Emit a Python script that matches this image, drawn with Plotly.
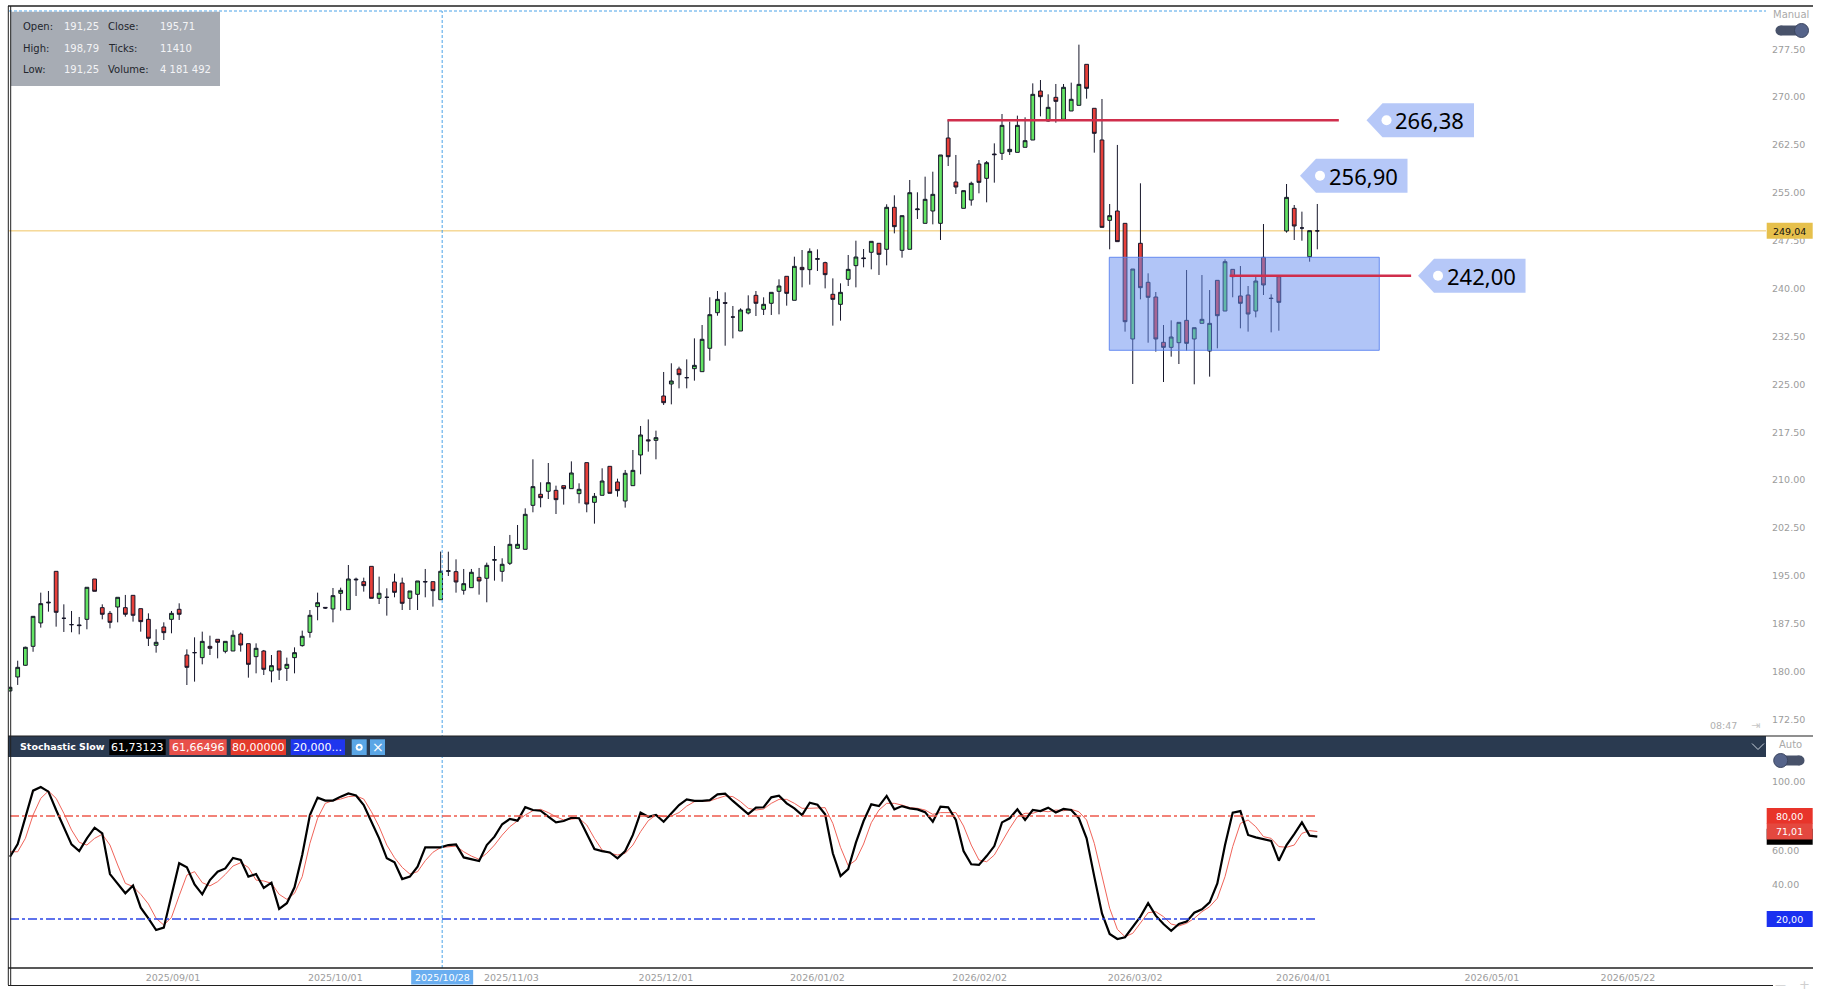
import plotly.graph_objects as go

# ---------------- data ----------------
opens = [
    176.96, 179.15, 180.98, 183.95, 187.61, 190.75, 195.70, 188.34, 187.35, 187.30,
    188.18, 194.50, 190.01, 189.12, 190.11, 190.01, 191.94, 189.85, 188.18, 184.11,
    186.98, 188.18, 189.75, 182.59, 182.96, 182.18, 183.95, 185.05, 183.17, 183.22,
    185.88, 184.37, 182.33, 183.22, 180.09, 183.22, 180.50, 182.18, 184.06, 186.14,
    190.17, 190.05, 189.80, 192.26, 189.70, 194.35, 194.08, 196.48, 191.47, 191.63,
    194.03, 193.87, 191.47, 192.10, 194.10, 194.08, 191.25, 195.70, 195.65, 192.73,
    193.14, 194.76, 194.61, 197.45, 195.70, 196.96, 199.31, 199.15, 206.04, 207.77,
    208.24, 208.39, 209.12, 208.65, 207.87, 212.73, 206.51, 207.61, 212.15, 209.70,
    206.72, 209.12, 213.93, 216.30, 216.22, 223.17, 225.05, 227.40, 226.04, 227.45,
    226.98, 230.64, 236.22, 237.80, 235.54, 233.35, 236.17, 238.94, 236.75, 237.69,
    239.57, 241.92, 238.16, 243.32, 242.96, 244.58, 244.06, 239.10, 237.53, 241.45,
    243.59, 244.80, 245.68, 247.09, 246.15, 252.73, 245.99, 246.15, 252.36, 250.22,
    252.15, 250.22, 263.59, 256.70, 252.57, 253.87, 259.51, 257.27, 261.08, 261.19,
    261.45, 261.34, 262.13, 263.27, 270.95, 266.25, 269.96, 266.51, 267.82, 268.71,
    275.13, 268.24, 263.28, 250.69, 252.15, 250.22, 232.10, 247.09, 240.98, 238.68,
    231.58, 230.79, 231.52, 235.02, 232.10, 234.55, 230.22, 241.29, 236.48, 243.01,
    238.84, 238.99, 236.48, 244.89, 238.50, 241.86, 249.02, 252.57, 249.49, 244.99,
    249.04]
highs = [
    177.60, 181.70, 183.90, 188.70, 192.36, 192.62, 195.70, 190.53, 189.49, 188.55,
    193.20, 194.50, 190.53, 189.49, 191.63, 192.00, 191.94, 189.85, 189.12, 186.62,
    187.71, 189.49, 190.69, 183.48, 185.36, 186.25, 185.62, 185.05, 184.73, 186.46,
    186.14, 184.37, 184.42, 183.38, 182.59, 183.22, 182.18, 183.79, 186.41, 189.64,
    192.36, 190.10, 193.09, 193.14, 196.69, 194.71, 194.71, 196.48, 194.87, 193.04,
    195.34, 194.71, 192.62, 194.19, 196.07, 194.08, 198.79, 198.78, 197.58, 196.07,
    196.07, 196.23, 197.06, 199.67, 197.74, 201.40, 202.96, 205.57, 213.25, 209.65,
    212.67, 209.12, 209.12, 212.93, 209.49, 212.73, 207.97, 211.84, 212.15, 210.22,
    211.58, 214.71, 218.47, 219.50, 217.74, 226.93, 228.29, 227.76, 228.91, 232.20,
    234.29, 238.63, 239.62, 239.41, 237.27, 236.90, 238.94, 239.62, 238.63, 239.41,
    241.45, 241.92, 244.99, 246.04, 246.30, 246.14, 244.21, 241.60, 240.82, 245.26,
    247.50, 246.20, 247.40, 247.09, 253.20, 254.61, 251.42, 257.01, 255.08, 257.53,
    258.31, 260.93, 266.41, 260.93, 255.34, 256.75, 260.14, 259.98, 262.75, 267.35,
    266.15, 267.09, 266.83, 272.15, 272.67, 270.43, 272.05, 272.05, 272.26, 278.21,
    275.13, 268.24, 269.70, 253.25, 262.50, 250.22, 243.06, 256.49, 242.39, 239.46,
    234.29, 235.02, 234.71, 242.91, 233.87, 242.12, 239.77, 241.29, 244.58, 243.01,
    243.53, 240.40, 241.86, 250.11, 239.10, 241.86, 256.38, 253.09, 252.05, 249.07,
    253.25]
lows = [
    176.90, 177.90, 180.90, 183.10, 186.88, 189.38, 187.03, 186.20, 186.15, 185.83,
    186.62, 192.57, 188.18, 186.77, 187.71, 188.60, 187.82, 186.25, 184.00, 182.96,
    184.94, 185.99, 188.08, 177.89, 178.42, 181.13, 182.59, 182.07, 182.86, 183.22,
    183.12, 179.04, 179.72, 179.46, 178.31, 178.68, 178.52, 179.72, 183.90, 185.31,
    188.03, 189.80, 187.71, 189.54, 189.70, 191.84, 192.52, 191.47, 190.58, 188.76,
    191.63, 189.64, 189.64, 189.64, 191.63, 190.17, 191.25, 194.97, 192.36, 192.05,
    193.14, 192.05, 190.85, 194.24, 194.08, 196.69, 199.31, 199.15, 204.95, 205.73,
    207.03, 204.68, 206.15, 208.65, 206.36, 204.95, 203.17, 207.61, 207.92, 207.40,
    205.68, 209.12, 210.90, 214.45, 213.25, 221.76, 221.86, 224.37, 224.37, 225.57,
    226.98, 228.70, 235.75, 231.05, 232.20, 233.35, 235.96, 235.70, 235.86, 235.86,
    235.96, 237.32, 238.16, 240.19, 240.61, 242.75, 240.03, 234.19, 234.97, 240.40,
    240.19, 243.33, 243.01, 242.13, 243.64, 248.65, 244.84, 246.15, 250.90, 250.22,
    250.06, 247.61, 259.20, 254.82, 252.57, 252.99, 254.92, 253.51, 256.59, 260.14,
    260.93, 261.34, 262.13, 263.27, 266.98, 266.15, 265.99, 266.51, 267.82, 268.71,
    269.75, 261.29, 249.59, 246.15, 247.35, 233.25, 225.05, 238.31, 231.52, 230.12,
    225.36, 229.33, 228.18, 230.27, 225.00, 234.55, 226.20, 230.64, 236.48, 238.63,
    233.77, 233.25, 235.49, 238.99, 233.14, 233.40, 248.76, 247.61, 247.50, 244.21,
    246.15]
closes = [
    177.53, 180.66, 183.80, 188.65, 190.64, 190.85, 189.28, 188.34, 187.35, 187.20,
    193.20, 192.57, 188.97, 187.71, 191.63, 188.97, 188.81, 187.82, 185.21, 184.58,
    186.09, 189.12, 188.97, 180.66, 182.96, 184.73, 183.64, 184.58, 184.73, 185.68,
    184.16, 181.13, 183.64, 180.35, 180.92, 180.24, 181.13, 182.96, 185.52, 188.81,
    190.79, 189.95, 191.89, 192.72, 194.50, 194.45, 193.46, 191.47, 192.26, 191.63,
    192.41, 190.69, 192.62, 194.19, 194.05, 192.67, 195.71, 195.78, 194.03, 193.77,
    195.55, 194.19, 196.64, 197.52, 196.80, 199.93, 199.93, 204.63, 208.97, 207.24,
    209.59, 206.93, 208.65, 211.11, 208.55, 206.25, 207.45, 209.85, 207.92, 208.34,
    211.06, 211.52, 217.06, 216.15, 216.64, 222.12, 225.52, 226.51, 226.04, 227.97,
    232.05, 235.91, 238.31, 237.70, 235.54, 236.64, 236.80, 237.69, 237.53, 239.41,
    240.40, 239.25, 243.48, 242.96, 245.83, 244.68, 242.18, 238.31, 239.41, 243.01,
    244.94, 244.70, 247.40, 245.36, 252.73, 249.70, 251.42, 255.02, 252.46, 253.98,
    254.76, 260.93, 260.66, 255.91, 255.34, 256.49, 256.64, 259.72, 260.98, 265.57,
    261.81, 265.57, 263.17, 270.43, 270.06, 268.39, 269.33, 271.53, 269.65, 271.99,
    271.37, 264.32, 249.59, 251.42, 247.35, 234.81, 243.06, 240.14, 238.63, 232.10,
    230.79, 232.41, 234.71, 231.42, 233.87, 235.18, 234.55, 235.75, 244.21, 241.86,
    237.69, 236.01, 241.18, 240.56, 238.44, 237.84, 254.29, 249.80, 249.49, 249.07,
    249.04]

stoch_k = [
    56.3, 63.7, 79.2, 94.8, 96.9, 94.2, 83.5, 73.8, 63.5, 59.6,
    67.0, 73.2, 69.9, 46.2, 40.4, 35.0, 39.5, 26.6, 20.4, 13.6,
    15.0, 33.6, 52.5, 50.1, 40.2, 34.4, 42.7, 47.6, 49.5, 55.6,
    54.4, 44.7, 46.2, 38.1, 41.2, 25.9, 29.2, 38.5, 57.3, 80.6,
    90.7, 89.0, 89.0, 91.3, 93.2, 92.0, 86.4, 76.7, 67.0, 55.4,
    53.0, 43.3, 44.7, 50.5, 61.8, 61.8, 61.73, 63.1, 63.5, 55.9,
    54.8, 53.8, 63.1, 68.0, 75.2, 78.3, 77.3, 85.2, 83.5, 83.1,
    79.6, 76.3, 77.1, 79.0, 78.7, 69.9, 60.8, 59.6, 58.8, 55.4,
    59.6, 69.0, 82.0, 79.6, 80.6, 76.7, 81.6, 86.4, 89.7, 88.8,
    88.8, 89.3, 92.6, 93.0, 88.8, 84.9, 81.2, 84.9, 85.1, 90.9,
    91.9, 87.4, 84.5, 80.6, 87.8, 86.6, 81.0, 58.3, 45.1, 49.1,
    64.5, 77.1, 86.8, 85.8, 91.7, 83.9, 85.8, 84.5, 83.9, 82.3,
    76.7, 85.5, 85.1, 77.7, 59.6, 51.9, 51.5, 56.7, 62.5, 76.3,
    78.7, 83.9, 77.7, 83.5, 82.9, 84.9, 82.1, 84.1, 83.5, 78.7,
    67.0, 44.7, 23.3, 11.3, 8.4, 9.4, 15.2, 21.4, 29.2, 22.0,
    17.1, 13.2, 17.1, 18.5, 23.7, 25.7, 29.7, 40.8, 63.1, 82.0,
    82.9, 69.0, 67.6, 66.6, 65.5, 54.0, 63.1, 69.5, 76.3, 68.6,
    68.0]
stoch_d = [
    59.2, 59.2, 67.0, 80.6, 90.3, 94.6, 90.3, 81.6, 71.9, 64.7,
    63.1, 67.0, 69.4, 63.1, 51.5, 40.8, 38.9, 34.4, 28.8, 20.4,
    16.5, 21.0, 33.6, 45.6, 47.6, 41.2, 39.3, 41.8, 46.0, 50.9,
    52.8, 50.1, 42.7, 42.2, 40.8, 34.4, 31.5, 35.0, 44.7, 64.1,
    78.7, 87.4, 89.0, 89.9, 91.3, 91.7, 89.9, 82.5, 73.8, 63.1,
    55.7, 50.1, 46.2, 47.6, 54.0, 58.9, 61.66, 62.2, 62.5, 59.2,
    56.7, 54.8, 58.3, 63.1, 68.9, 73.8, 77.3, 80.6, 83.1, 83.9,
    82.0, 79.6, 77.7, 78.1, 78.7, 74.8, 67.0, 60.2, 58.3, 57.3,
    58.3, 63.1, 70.9, 77.3, 80.6, 79.6, 80.0, 82.0, 85.8, 88.4,
    88.8, 88.8, 90.3, 91.7, 91.3, 88.4, 84.5, 83.5, 84.1, 87.4,
    89.7, 89.7, 87.4, 84.5, 84.5, 84.9, 84.9, 75.7, 61.8, 51.1,
    54.4, 63.7, 76.1, 83.5, 87.4, 87.4, 86.4, 84.9, 84.5, 83.5,
    81.0, 82.0, 82.1, 82.0, 74.2, 63.1, 54.4, 53.4, 57.3, 65.1,
    72.8, 79.6, 81.6, 81.6, 83.1, 82.5, 83.5, 83.1, 83.9, 82.5,
    77.7, 64.1, 45.1, 26.3, 14.0, 9.7, 11.7, 17.5, 23.7, 24.3,
    21.4, 17.1, 16.0, 17.5, 20.4, 24.3, 27.2, 32.1, 44.7, 62.2,
    75.7, 77.7, 73.8, 68.0, 67.0, 62.2, 61.8, 63.1, 69.9, 71.5,
    71.01]

date_labels = ["2025/09/01", "2025/10/01", "2025/11/03", "2025/12/01", "2026/01/02",
               "2026/02/02", "2026/03/02", "2026/04/01", "2026/05/01", "2026/05/22"]
date_label_pos = [21.2, 42.3, 65.2, 85.3, 105.0, 126.1, 146.3, 168.2, 192.7, 210.4]
cursor_label = "2025/10/28"
cursor_pos = 56.2

price_ticks = [172.5, 180.0, 187.5, 195.0, 202.5, 210.0, 217.5, 225.0,
               232.5, 240.0, 247.5, 255.0, 262.5, 270.0, 277.5]
stoch_ticks = [100, 60, 40]
stoch_levels = [80, 20]

last_price = 249.04
level_values = [266.38, 242.00]
level_starts = [121.9, 158.6]
level_ends = [172.8, 182.2]
tag_values = [266.38, 256.90, 242.00]
tag_tips = [176.4, 167.75, 183.1]
tag_shift_px = [0, -5, 0]
zone_top, zone_bottom = 244.90, 230.33
zone_start, zone_end = 142.95, 178.06

info_rows = [("Open:", "191,25", "Close:", "195,71"),
             ("High:", "198,79", "Ticks:", "11410"),
             ("Low:", "191,25", "Volume:", "4 181 492")]
header_values = ["61,73123", "61,66496", "80,00000", "20,000..."]
stoch_last_k, stoch_last_d = 68.0, 71.01
stoch_last_d_label = "71,01"

# ---------------- geometry ----------------
W, H = 1826, 996
ML, MR, MT, MB = 9, 60, 5, 28
PW, PH = W - ML - MR, H - MT - MB
BOTTOM = H - MB


def fx(px):
    return (px - ML) / PW


def fy(py):
    return (BOTTOM - py) / PH


BAR = 7.69
X_RANGE = [(ML - 10) / BAR, (W - MR - 10) / BAR]
MAIN_BOT_PX, ST_TOP_PX = 736, 757
P_SCALE = 6.383


def price_at(py):
    return 277.5 - (py - 49.2) / P_SCALE


MAIN_RANGE = [price_at(MAIN_BOT_PX), price_at(MT)]
MAIN_DOM = [fy(MAIN_BOT_PX), 1.0]


def stoch_at(py):
    return 100 - (py - 781.7) / 1.717


ST_RANGE = [stoch_at(BOTTOM), stoch_at(ST_TOP_PX)]
ST_DOM = [0.0, fy(ST_TOP_PX)]


def price_py(p):
    return MT + (MAIN_RANGE[1] - p) / (MAIN_RANGE[1] - MAIN_RANGE[0]) * (MAIN_BOT_PX - MT)


def stoch_py(v):
    return ST_TOP_PX + (ST_RANGE[1] - v) / (ST_RANGE[1] - ST_RANGE[0]) * (BOTTOM - ST_TOP_PX)


def fmt(v):
    return f"{v:.2f}".replace(".", ",")


GREEN, RED, WICK = "#63e463", "#e8403a", "#16162a"
AX_FONT = dict(family="DejaVu Sans", size=9.5, color="#9c9c9c")
CROSS_DASH = "3px,2px"

x = list(range(len(opens)))
fig = go.Figure()
fig.add_trace(go.Candlestick(
    x=x, open=opens, high=highs, low=lows, close=closes,
    increasing=dict(line=dict(color=WICK, width=1), fillcolor=GREEN),
    decreasing=dict(line=dict(color=WICK, width=1), fillcolor=RED),
    whiskerwidth=0, xaxis="x", yaxis="y", hoverinfo="skip", showlegend=False))
fig.add_trace(go.Scatter(x=x, y=stoch_d, mode="lines", line=dict(color="#f0645a", width=1),
                         xaxis="x2", yaxis="y2", hoverinfo="skip", showlegend=False))
fig.add_trace(go.Scatter(x=x, y=stoch_k, mode="lines", line=dict(color="#000000", width=2.2),
                         xaxis="x2", yaxis="y2", hoverinfo="skip", showlegend=False))

shapes = []
ann = []


def line_px(x0, y0, x1, y1, color, width=1, dash="solid"):
    shapes.append(dict(type="line", xref="paper", yref="paper", x0=fx(x0), y0=fy(y0),
                       x1=fx(x1), y1=fy(y1), line=dict(color=color, width=width, dash=dash),
                       layer="above"))


def rect_px(x0, y0, x1, y1, fill, lw=0, lc=None):
    shapes.append(dict(type="rect", xref="paper", yref="paper", x0=fx(x0), y0=fy(y0),
                       x1=fx(x1), y1=fy(y1), fillcolor=fill,
                       line=dict(width=lw, color=lc or fill), layer="above"))


def circle_px(cx, cy, r, fill, lc=None, lw=0):
    shapes.append(dict(type="circle", xref="paper", yref="paper", x0=fx(cx - r), y0=fy(cy + r),
                       x1=fx(cx + r), y1=fy(cy - r), fillcolor=fill,
                       line=dict(width=lw, color=lc or fill), layer="above"))


def text_px(t, px, py, size=10, color="#000", xanchor="left", family="DejaVu Sans"):
    ann.append(dict(text=t, xref="paper", yref="paper", x=fx(px), y=fy(py), xanchor=xanchor,
                    yanchor="middle", showarrow=False, font=dict(family=family, size=size, color=color)))


# last price line (behind candles)
shapes.append(dict(type="line", xref="paper", yref="y", x0=0, x1=1, y0=last_price, y1=last_price,
                   line=dict(color="#f0c462", width=1), layer="below"))
# crosshair
shapes.append(dict(type="line", xref="x", yref="paper", x0=cursor_pos, x1=cursor_pos, y0=0, y1=fy(11),
                   line=dict(color="#4aa3e8", width=1, dash=CROSS_DASH), layer="above"))
line_px(9, 11, W - MR, 11, "#4aa3e8", 1, CROSS_DASH)

# zone rectangle
shapes.append(dict(type="rect", xref="x", yref="y", x0=zone_start, x1=zone_end, y0=zone_bottom, y1=zone_top,
                   fillcolor="rgba(100,140,240,0.5)", line=dict(color="rgba(90,130,240,0.9)", width=1),
                   layer="above"))
# horizontal levels
for v, s, e in zip(level_values, level_starts, level_ends):
    shapes.append(dict(type="line", xref="x", yref="y", x0=s, x1=e, y0=v, y1=v,
                       line=dict(color="#d02e4c", width=2.5), layer="above"))
# price tags
for v, tip, sh in zip(tag_values, tag_tips, tag_shift_px):
    yc = v - sh / P_SCALE
    hh = 17 / P_SCALE
    slant, wid = 16 / BAR, 107.5 / BAR
    path = (f"M {tip},{yc} L {tip + slant},{yc + hh} L {tip + wid},{yc + hh} "
            f"L {tip + wid},{yc - hh} L {tip + slant},{yc - hh} Z")
    shapes.append(dict(type="path", xref="x", yref="y", path=path, fillcolor="#b6c8f8",
                       line=dict(width=0), layer="above"))
    cx = tip + 20 / BAR
    shapes.append(dict(type="circle", xref="x", yref="y", x0=cx - 5 / BAR, x1=cx + 5 / BAR,
                       y0=yc - 5 / P_SCALE, y1=yc + 5 / P_SCALE, fillcolor="white",
                       line=dict(width=0), layer="above"))
    ann.append(dict(text=fmt(v), xref="x", yref="y", x=tip + 63 / BAR, y=yc, xanchor="center",
                    yanchor="middle", showarrow=False,
                    font=dict(family="Noto Sans", size=22, color="#000")))

# stochastic 80 / 20 levels
for lv, col in zip(stoch_levels, ["#ee5a4c", "#2a44e6"]):
    shapes.append(dict(type="line", xref="x2", yref="y2", x0=0, x1=len(x) - 1, y0=lv, y1=lv,
                       line=dict(color=col, width=1.5, dash="dashdot"), layer="above"))

# info box
rect_px(10.7, 11.7, 220, 86, "#a7acb4")
for r, (l1, v1, l2, v2) in enumerate(info_rows):
    yy = [26.7, 48.3, 69.3][r]
    text_px(l1, 20.7, yy, 10, "#23262d")
    text_px(v1, 61.7, yy, 10, "#f4f4f6")
    text_px(l2, 106, yy, 10, "#23262d")
    text_px(v2, 158.3, yy, 10, "#f4f4f6")

# stochastic header band
rect_px(8, 736, W - MR, 757, "#2a3a50")
text_px("<b>Stochastic Slow</b>", 18, 746.5, 9.5, "#ffffff")
hb = [(109.3, 165.7, "#000000"), (169.3, 226.7, "#e8504a"), (230.7, 286, "#e43a2c"), (290.7, 345, "#1f36ee")]
for (a, b, c), t in zip(hb, header_values):
    rect_px(a, 739.3, b, 755, c)
    text_px(t, (a + b) / 2, 747.2, 11, "#ffffff", "center")
rect_px(351.7, 739.3, 366.7, 755, "#5aa6e6")
circle_px(359.2, 747.2, 3.5, "#ffffff")
circle_px(359.2, 747.2, 1.5, "#5aa6e6")
rect_px(370, 739.3, 385, 755, "#5aa6e6")
text_px("×", 377.5, 747, 14, "#ffffff", "center")
shapes.append(dict(type="path", xref="paper", yref="paper",
                   path=f"M {fx(1752)},{fy(743.5)} L {fx(1758)},{fy(749.5)} L {fx(1764)},{fy(743.5)}",
                   line=dict(color="#c8d0da", width=1), layer="above"))

# frame lines
line_px(8, 6, 1813, 6, "#202020", 1.5)
line_px(8.3, 6, 8.3, 985, "#202020", 1)
line_px(10.7, 6, 10.7, 985, "#202020", 1)
line_px(8, 736, 1813, 736, "#202020", 1.2)
line_px(8, BOTTOM, 1813, BOTTOM, "#202020", 1.5)
line_px(8, 985.5, 1773, 985.5, "#202020", 1.2)


# right axis value boxes
def value_box(py, label, bg, fg):
    rect_px(1766.7, py - 8, 1812.7, py + 8, bg)
    if label:
        text_px(label, 1789.7, py + 0.5, 9.5, fg, "center")


value_box(price_py(last_price), fmt(last_price), "#e6c04c", "#111111")
value_box(stoch_py(80), fmt(80), "#e8342a", "#ffffff")
value_box(stoch_py(stoch_last_k), "", "#000000", "#ffffff")
value_box(stoch_py(stoch_last_d), stoch_last_d_label, "#e4483f", "#ffffff")
value_box(stoch_py(20), fmt(20), "#1a30f0", "#ffffff")

# toggles and small texts
text_px("Manual", 1790.5, 14, 10, "#a9a9a9", "center")
rect_px(1780.5, 25.5, 1802.5, 35.5, "#48526a")
circle_px(1780.5, 30.5, 5, "#48526a")
circle_px(1801.5, 30.5, 7, "#56648a", "#3c4660", 1)
text_px("Auto", 1790.5, 744, 10, "#a9a9a9", "center")
rect_px(1780.5, 755.5, 1799.5, 765.5, "#48526a")
circle_px(1799.5, 760.5, 5, "#48526a")
circle_px(1780.7, 760.5, 7, "#56648a", "#3c4660", 1)
text_px("08:47", 1723, 725, 9.5, "#b0b0b0", "center")
text_px("⇥", 1755, 725, 11, "#c8c8c8", "center")
text_px("—", 1780, 984, 11, "#cfcfcf", "center")
text_px("+", 1804, 984, 13, "#cfcfcf", "center")

# cursor date box on time axis
cxp = 10 + cursor_pos * BAR
rect_px(cxp - 31, 970, cxp + 31, 984.5, "#6aaef0")
text_px(cursor_label, cxp, 977.5, 9.5, "#ffffff", "center")

fig.update_layout(
    width=W, height=H, margin=dict(l=ML, r=MR, t=MT, b=MB, pad=0),
    paper_bgcolor="white", plot_bgcolor="white", showlegend=False,
    xaxis=dict(domain=[0, 1], range=X_RANGE, anchor="y", showticklabels=False, showgrid=False,
               zeroline=False, showline=False, ticks="", rangeslider=dict(visible=False), fixedrange=True),
    xaxis2=dict(domain=[0, 1], range=X_RANGE, anchor="y2", matches="x", tickmode="array",
                tickvals=date_label_pos, ticktext=date_labels, showgrid=False, zeroline=False,
                showline=False, ticks="", tickfont=AX_FONT, ticklabelstandoff=2,
                rangeslider=dict(visible=False)),
    yaxis=dict(domain=MAIN_DOM, range=MAIN_RANGE, side="right", anchor="x", tickmode="array",
               tickvals=price_ticks, ticktext=[f"{t:.2f}" for t in price_ticks], showgrid=False,
               zeroline=False, showline=False, ticks="", tickfont=AX_FONT, ticklabelstandoff=5,
               fixedrange=True),
    yaxis2=dict(domain=ST_DOM, range=ST_RANGE, side="right", anchor="x2", tickmode="array",
                tickvals=stoch_ticks, ticktext=[f"{t:.2f}" for t in stoch_ticks], showgrid=False,
                zeroline=False, showline=False, ticks="", tickfont=AX_FONT, ticklabelstandoff=5,
                fixedrange=True),
    shapes=shapes, annotations=ann,
)

fig.write_html("out.html", config={"displayModeBar": False},
               post_script="document.body.style.margin='0';document.body.style.overflow='hidden';")
